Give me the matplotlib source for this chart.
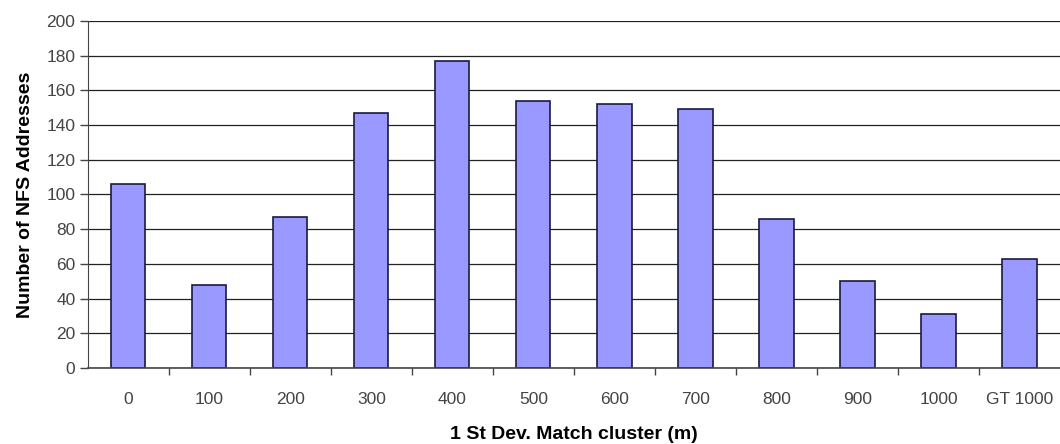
import numpy as np
import matplotlib.pyplot as plt

plt.rcParams['font.family'] = ['Liberation Sans', 'DejaVu Sans']

categories = ['0', '100', '200', '300', '400', '500', '600', '700', '800', '900', '1000', 'GT 1000']
counts = [106, 48, 87, 147, 177, 154, 152, 149, 86, 50, 31, 63]

fig = plt.figure(figsize=(10.6, 4.44), dpi=100)
ax = fig.add_axes([0.083, 0.171, 0.917, 0.782])

x = np.arange(len(categories))
ax.set_axisbelow(True)
ax.yaxis.grid(True, color='#222222', linewidth=0.9)
ax.bar(x, counts, width=0.42, color='#9999ff', edgecolor='#1a1a40', linewidth=1.2)

ax.set_xlim(-0.5, len(categories) - 0.5)
ax.set_ylim(0, 200)
ax.set_yticks(np.arange(0, 201, 20))
ax.set_xticks(x)
ax.set_xticklabels(categories)
ax.set_xticks(np.arange(0.5, len(categories) - 0.5, 1), minor=True)
ax.tick_params(axis='x', which='major', length=0, pad=17, labelsize=12.5, labelcolor='#444444')
ax.tick_params(axis='x', which='minor', length=5, width=1, color='#444444')
ax.tick_params(axis='y', length=6, width=1, color='#444444', labelsize=12.5, labelcolor='#444444', pad=3)

for s in ['top', 'right']:
    ax.spines[s].set_visible(False)
ax.spines['left'].set_color('#444444')
ax.spines['bottom'].set_color('#444444')
ax.spines['bottom'].set_linewidth(1.2)

ax.set_ylabel('Number of NFS Addresses', fontsize=14, fontweight='bold', labelpad=9)
ax.set_xlabel('1 St Dev. Match cluster (m)', fontsize=14, fontweight='bold', labelpad=14)

fig.savefig('out.png', dpi=100)
